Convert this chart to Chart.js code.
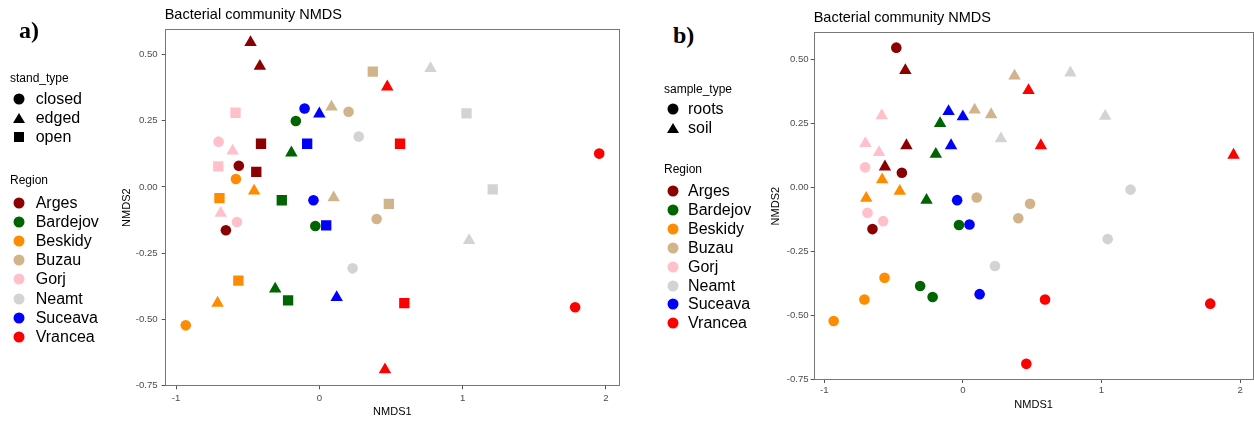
<!DOCTYPE html>
<html>
<head>
<meta charset="utf-8">
<script src="https://cdn.jsdelivr.net/npm/chart.js@4.4.0/dist/chart.umd.min.js"></script>
<style>
  body { margin: 0; background: #fff; font-family: "Liberation Sans", Arial, sans-serif; }
  #wrap { position: relative; width: 1254px; height: 421px; overflow: hidden; }
  canvas { position: absolute; top: 0; }
  .lab { position: absolute; white-space: nowrap; transform: translateY(-50%); line-height: 1; color: #000; }
  .tag { font-family: "Liberation Serif", "Times New Roman", serif; font-weight: bold; font-size: 24px; }
  .mk { position: absolute; transform: translate(-50%, -50%); }
</style>
</head>
<body>
<div id="wrap">
  <canvas id="chartA" width="630" height="421" style="left:0"></canvas>
  <canvas id="chartB" width="534" height="421" style="left:720px"></canvas>
</div>
<script>
const regions = ["Arges", "Bardejov", "Beskidy", "Buzau", "Gorj", "Neamt", "Suceava", "Vrancea"];
const regionColors = ["#8B0000", "#006400", "#FF8C00", "#D2B48C", "#FFC0CB", "#D3D3D3", "#0000FF", "#FF0000"];
const standTypes = ["closed", "edged", "open"];
const sampleTypes = ["roots", "soil"];

const pointRegion = [
  "Arges", "Arges", "Arges", "Arges", "Arges", "Arges",
  "Bardejov", "Bardejov", "Bardejov", "Bardejov", "Bardejov", "Bardejov",
  "Beskidy", "Beskidy", "Beskidy", "Beskidy", "Beskidy", "Beskidy",
  "Buzau", "Buzau", "Buzau", "Buzau", "Buzau", "Buzau",
  "Gorj", "Gorj", "Gorj", "Gorj", "Gorj", "Gorj",
  "Neamt", "Neamt", "Neamt", "Neamt", "Neamt", "Neamt",
  "Suceava", "Suceava", "Suceava", "Suceava", "Suceava", "Suceava",
  "Vrancea", "Vrancea", "Vrancea", "Vrancea", "Vrancea", "Vrancea"
];
const nmds1 = [
  -0.480, -0.415, -0.407, -0.562, -0.440, -0.652,
  -0.164, -0.195, -0.262, -0.028, -0.308, -0.218,
  -0.582, -0.455, -0.697, -0.565, -0.710, -0.932,
  0.373, 0.085, 0.204, 0.100, 0.485, 0.400,
  -0.585, -0.703, -0.605, -0.705, -0.688, -0.575,
  0.275, 0.232, 0.776, 1.027, 1.210, 1.045,
  -0.103, 0.000, -0.085, -0.041, 0.048, 0.121,
  0.474, 0.563, 1.953, 0.593, 1.785, 0.458
];
const nmds2 = [
  0.545, 0.456, 0.163, 0.080, 0.057, -0.163,
  0.249, 0.129, -0.050, -0.147, -0.385, -0.428,
  0.030, -0.015, -0.042, -0.353, -0.438, -0.522,
  0.435, 0.302, 0.284, -0.040, -0.064, -0.121,
  0.280, 0.171, 0.136, 0.078, -0.099, -0.132,
  0.190, -0.307, 0.447, 0.278, -0.009, -0.202,
  0.296, 0.276, 0.163, -0.050, -0.145, -0.417,
  0.378, 0.163, 0.126, -0.438, -0.454, -0.689
];
const standType = [
  "edged", "edged", "open", "closed", "open", "closed",
  "closed", "edged", "open", "closed", "edged", "open",
  "closed", "edged", "open", "open", "edged", "closed",
  "open", "edged", "closed", "edged", "open", "closed",
  "open", "closed", "edged", "open", "edged", "closed",
  "closed", "closed", "edged", "open", "open", "edged",
  "closed", "edged", "open", "closed", "open", "edged",
  "edged", "open", "closed", "open", "closed", "edged"
];
const sampleType = [
  "roots", "soil", "soil", "soil", "roots", "roots",
  "soil", "soil", "soil", "roots", "roots", "roots",
  "soil", "soil", "soil", "roots", "roots", "roots",
  "soil", "soil", "soil", "roots", "roots", "roots",
  "soil", "soil", "soil", "roots", "roots", "roots",
  "soil", "roots", "soil", "soil", "roots", "roots",
  "soil", "soil", "soil", "roots", "roots", "roots",
  "soil", "soil", "soil", "roots", "roots", "roots"
];
const xTicks = [-1, 0, 1, 2];
const yTicks = [0.5, 0.25, 0, -0.25, -0.5, -0.75];

// shape names -> chart.js point styles
const shapeStyle = { closed: "circle", roots: "circle", edged: "triangle", soil: "triangle", open: "rect" };
const shapeRadius = { circle: 5.3, triangle: 7.2, rect: 7.3 };

const FONT = "'Liberation Sans', Arial, sans-serif";

const panelBorder = {
  id: "panelBorder",
  afterDatasetsDraw(chart) {
    const a = chart.chartArea;
    const ctx = chart.ctx;
    ctx.save();
    ctx.strokeStyle = "#777";
    ctx.lineWidth = 1;
    ctx.strokeRect(Math.round(a.left) + 0.5, Math.round(a.top) + 0.5,
      Math.round(a.right - a.left) - 1, Math.round(a.bottom - a.top) - 1);
    ctx.restore();
  }
};

function buildDatasets(shapeOf) {
  return regions.map(function (name, r) {
    const pts = [], styles = [], radii = [];
    for (let i = 0; i < nmds1.length; i++) {
      if (pointRegion[i] !== name) continue;
      const st = shapeStyle[shapeOf[i]];
      pts.push({ x: nmds1[i], y: nmds2[i] });
      styles.push(st);
      radii.push(shapeRadius[st]);
    }
    return {
      label: name,
      data: pts,
      pointStyle: styles,
      pointRadius: radii,
      backgroundColor: regionColors[r],
      borderColor: regionColors[r],
      borderWidth: 0
    };
  });
}

function makeChart(id, shapeOf, lay) {
  const ctx = document.getElementById(id).getContext("2d");
  return new Chart(ctx, {
    type: "scatter",
    data: { datasets: buildDatasets(shapeOf) },
    options: {
      responsive: false,
      animation: false,
      events: [],
      layout: { padding: lay.padding, autoPadding: false },
      plugins: {
        legend: { display: false },
        tooltip: { enabled: false },
        title: {
          display: true,
          text: "Bacterial community NMDS",
          align: "start",
          fullSize: false,
          color: "#000",
          font: { family: FONT, size: 14.5, weight: "normal", lineHeight: 1.2 },
          padding: lay.titlePad
        }
      },
      scales: {
        x: {
          type: "linear",
          min: lay.xMin,
          max: lay.xMax,
          afterBuildTicks: function (s) { s.ticks = xTicks.map(v => ({ value: v })); },
          afterFit: function (s) { s.height = lay.xHeight; s.paddingLeft = 0; s.paddingRight = 0; },
          ticks: {
            includeBounds: false, autoSkip: false, maxRotation: 0,
            color: "#4D4D4D", padding: lay.xTickPad,
            font: { family: FONT, size: 9.6 },
            callback: v => String(v)
          },
          grid: { drawOnChartArea: false, drawTicks: true, tickLength: 3, color: "#555" },
          border: { display: false },
          title: { display: true, text: "NMDS1", color: "#000", padding: 0, font: { family: FONT, size: 11 } }
        },
        y: {
          type: "linear",
          min: lay.yMin,
          max: lay.yMax,
          afterBuildTicks: function (s) { s.ticks = yTicks.map(v => ({ value: v })); },
          afterFit: function (s) { s.width = lay.yWidth; s.paddingTop = 0; s.paddingBottom = 0; },
          ticks: {
            includeBounds: false, autoSkip: false,
            color: "#4D4D4D", padding: lay.yTickPad,
            font: { family: FONT, size: 9.6 },
            callback: v => v.toFixed(2)
          },
          grid: { drawOnChartArea: false, drawTicks: true, tickLength: 3, color: "#555" },
          border: { display: false },
          title: { display: true, text: "NMDS2", color: "#000", padding: 0, font: { family: FONT, size: 11 } }
        }
      }
    },
    plugins: [panelBorder]
  });
}

makeChart("chartA", standType, {
  padding: { left: 120.4, right: 10, top: 0, bottom: 2.4 },
  titlePad: { top: 6.3, bottom: 5.3 },
  xMin: -1.079, xMax: 2.098, yMin: -0.752, yMax: 0.596,
  xHeight: 32.3, yWidth: 44.3, xTickPad: 3, yTickPad: 4
});
makeChart("chartB", sampleType, {
  padding: { left: 49, right: 0.5, top: 0, bottom: 9.4 },
  titlePad: { top: 9.6, bottom: 5.3 },
  xMin: -1.076, xMax: 2.097, yMin: -0.752, yMax: 0.605,
  xHeight: 31.6, yWidth: 44.7, xTickPad: 2, yTickPad: 2
});

// HTML legends
const wrap = document.getElementById("wrap");
function addText(txt, x, y, size, cls) {
  const d = document.createElement("div");
  d.className = "lab" + (cls ? " " + cls : "");
  d.style.left = x + "px";
  d.style.top = y + "px";
  if (size) d.style.fontSize = size + "px";
  d.textContent = txt;
  wrap.appendChild(d);
}
function addMarker(style, color, x, y) {
  const m = document.createElement("div");
  m.className = "mk";
  m.style.left = x + "px";
  m.style.top = y + "px";
  if (style === "circle") {
    m.style.width = "11px"; m.style.height = "11px"; m.style.borderRadius = "50%"; m.style.background = color;
  } else if (style === "rect") {
    m.style.width = "10px"; m.style.height = "10px"; m.style.background = color;
  } else {
    m.style.width = "0"; m.style.height = "0";
    m.style.borderLeft = "6px solid transparent";
    m.style.borderRight = "6px solid transparent";
    m.style.borderBottom = "10.5px solid " + color;
  }
  wrap.appendChild(m);
}
function addLegend(L, title, kinds) {
  addText(title, L.titleX, L.shapeTitleY, 12);
  kinds.forEach(function (k, i) {
    const y = L.shapeY + i * L.step;
    addMarker(shapeStyle[k], "#000", L.markX, y);
    addText(k, L.textX, y, 16);
  });
  addText("Region", L.titleX, L.regionTitleY, 12);
  regions.forEach(function (name, i) {
    const y = L.regionY + i * L.step;
    addMarker("circle", regionColors[i], L.markX, y);
    addText(name, L.textX, y, 16);
  });
}
addText("a)", 19, 30, null, "tag");
addText("b)", 673, 35, null, "tag");
addLegend({ titleX: 10, shapeTitleY: 78, shapeY: 99, step: 19.1, markX: 19.3, textX: 35.7, regionTitleY: 180, regionY: 203 },
  "stand_type", standTypes);
addLegend({ titleX: 664, shapeTitleY: 89, shapeY: 109, step: 18.9, markX: 673, textX: 688, regionTitleY: 169, regionY: 191 },
  "sample_type", sampleTypes);
</script>
</body>
</html>
